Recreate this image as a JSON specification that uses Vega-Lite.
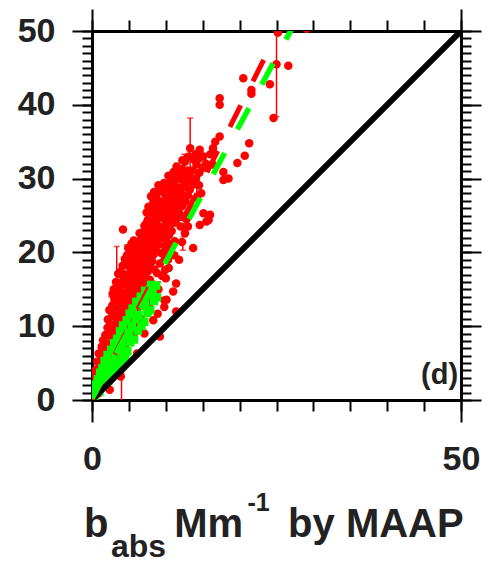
{
  "$schema": "https://vega.github.io/schema/vega-lite/v6.json",
  "width": 369,
  "height": 369,
  "autosize": "none",
  "padding": {"left": 92, "top": 31, "right": 28, "bottom": 162},
  "background": "white",
  "config": {
    "view": {"stroke": null},
    "font": "Liberation Sans",
    "axis": {
      "grid": false,
      "domainColor": "black",
      "domainWidth": 3,
      "tickColor": "black",
      "tickWidth": 2,
      "labelFont": "Liberation Sans",
      "labelFontWeight": "bold",
      "labelColor": "#222222",
      "labelFontSize": 34,
      "labelFlush": false,
      "labelOverlap": false,
      "titleFont": "Liberation Sans",
      "titleFontWeight": "bold",
      "titleColor": "#222222",
      "titleAlign": "left",
      "titleBaseline": "alphabetic",
      "titleAngle": 0,
      "zindex": 1
    }
  },
  "resolve": {"axis": {"x": "independent", "y": "independent"}},
  "datasets": {
    "pts": [
      {"x":0.3,"y":0.6},{"x":0.35,"y":1.9},{"x":0.25,"y":3.3},
      {"x":0.6,"y":1.1},{"x":0.65,"y":2.7},{"x":0.55,"y":4.1},{"x":0.7,"y":5.2},
      {"x":0.9,"y":0.9},{"x":0.95,"y":2.1},{"x":0.85,"y":3.4},{"x":1.0,"y":4.5},{"x":0.9,"y":6.3},
      {"x":1.2,"y":1.6},{"x":1.25,"y":2.9},{"x":1.15,"y":4.2},{"x":1.3,"y":5.6},{"x":1.3,"y":7.2},
      {"x":1.5,"y":2.3},{"x":1.55,"y":3.5},{"x":1.45,"y":5.0},{"x":1.6,"y":6.2},{"x":1.5,"y":8.1},
      {"x":1.8,"y":2.8},{"x":1.85,"y":4.3},{"x":1.75,"y":5.5},{"x":1.9,"y":7.1},{"x":1.8,"y":8.8},
      {"x":2.1,"y":3.5},{"x":2.15,"y":4.7},{"x":2.05,"y":6.5},{"x":2.2,"y":7.6},{"x":2.1,"y":9.8},{"x":2.15,"y":10.9},
      {"x":2.4,"y":1.4},{"x":2.45,"y":4.2},{"x":2.35,"y":5.8},{"x":2.5,"y":7.0},{"x":2.4,"y":8.7},{"x":2.45,"y":10.2},{"x":2.35,"y":12.2},
      {"x":2.7,"y":5.1},{"x":2.75,"y":6.1},{"x":2.65,"y":8.0},{"x":2.8,"y":9.3},{"x":2.7,"y":11.3},{"x":2.75,"y":12.8},{"x":2.8,"y":14.4},
      {"x":3.0,"y":3.6},{"x":3.05,"y":6.9},{"x":2.95,"y":8.1},{"x":3.1,"y":10.2},{"x":3.0,"y":11.6},{"x":3.05,"y":13.8},{"x":2.95,"y":15.0},
      {"x":3.3,"y":5.8},{"x":3.35,"y":7.7},{"x":3.25,"y":9.0},{"x":3.4,"y":10.9},{"x":3.3,"y":12.3},{"x":3.35,"y":14.4},{"x":3.25,"y":16.0},
      {"x":3.6,"y":5.0},{"x":3.65,"y":8.5},{"x":3.55,"y":9.8},{"x":3.7,"y":11.6},{"x":3.6,"y":13.4},{"x":3.65,"y":14.9},{"x":3.55,"y":17.1},
      {"x":3.9,"y":3.2},{"x":3.95,"y":7.4},{"x":3.85,"y":9.1},{"x":4.0,"y":10.6},{"x":3.9,"y":12.5},{"x":3.95,"y":13.9},{"x":3.85,"y":15.9},{"x":3.9,"y":17.4},
      {"x":4.2,"y":8.0},{"x":4.25,"y":9.9},{"x":4.15,"y":11.4},{"x":4.3,"y":13.2},{"x":4.2,"y":14.5},{"x":4.25,"y":16.7},{"x":4.15,"y":18.2},{"x":4.2,"y":23.1},
      {"x":4.5,"y":7.0},{"x":4.55,"y":10.3},{"x":4.45,"y":12.4},{"x":4.6,"y":13.8},{"x":4.5,"y":15.6},{"x":4.55,"y":17.0},{"x":4.45,"y":19.1},
      {"x":4.8,"y":9.4},{"x":4.85,"y":11.5},{"x":4.75,"y":12.8},{"x":4.9,"y":14.7},{"x":4.8,"y":16.1},{"x":4.85,"y":18.2},{"x":4.75,"y":19.6},{"x":4.9,"y":20.6},
      {"x":5.1,"y":8.0},{"x":5.15,"y":11.8},{"x":5.05,"y":13.7},{"x":5.2,"y":15.2},{"x":5.1,"y":17.1},{"x":5.15,"y":18.6},{"x":5.05,"y":20.6},
      {"x":5.4,"y":10.8},{"x":5.45,"y":12.7},{"x":5.35,"y":14.3},{"x":5.5,"y":16.2},{"x":5.4,"y":17.7},{"x":5.45,"y":19.6},{"x":5.35,"y":21.2},
      {"x":5.7,"y":9.0},{"x":5.75,"y":13.2},{"x":5.65,"y":15.1},{"x":5.8,"y":16.7},{"x":5.7,"y":18.6},{"x":5.75,"y":20.0},{"x":5.65,"y":21.6},
      {"x":6.1,"y":6.3},{"x":6.05,"y":12.1},{"x":5.95,"y":14.1},{"x":6.1,"y":15.6},{"x":6.0,"y":17.5},{"x":6.05,"y":19.1},{"x":5.95,"y":21.0},
      {"x":6.3,"y":10.0},{"x":6.35,"y":14.5},{"x":6.25,"y":16.6},{"x":6.4,"y":18.0},{"x":6.3,"y":20.0},{"x":6.35,"y":21.5},{"x":6.45,"y":22.6},
      {"x":6.6,"y":11.0},{"x":6.65,"y":13.5},{"x":6.55,"y":15.5},{"x":6.7,"y":17.1},{"x":6.6,"y":19.0},{"x":6.65,"y":20.5},{"x":6.75,"y":22.4},
      {"x":6.9,"y":14.4},{"x":6.95,"y":15.9},{"x":6.85,"y":17.9},{"x":7.0,"y":19.5},{"x":6.9,"y":21.5},{"x":7.05,"y":22.9},{"x":7.1,"y":23.6},
      {"x":7.1,"y":9.0},{"x":7.25,"y":14.9},{"x":7.15,"y":16.9},{"x":7.3,"y":18.4},{"x":7.2,"y":20.4},{"x":7.25,"y":21.9},{"x":7.35,"y":23.9},{"x":7.4,"y":25.4},
      {"x":7.5,"y":13.5},{"x":7.55,"y":17.4},{"x":7.45,"y":19.3},{"x":7.6,"y":20.9},{"x":7.5,"y":22.9},{"x":7.55,"y":24.4},{"x":7.65,"y":26.2},
      {"x":7.8,"y":12.5},{"x":7.85,"y":16.3},{"x":7.75,"y":18.3},{"x":7.9,"y":19.9},{"x":7.8,"y":21.8},{"x":7.85,"y":23.4},{"x":7.95,"y":25.4},{"x":8.0,"y":27.6},
      {"x":8.1,"y":15.8},{"x":8.15,"y":18.8},{"x":8.05,"y":20.8},{"x":8.2,"y":22.3},{"x":8.1,"y":24.3},{"x":8.15,"y":25.9},{"x":8.25,"y":27.7},
      {"x":8.3,"y":10.8},{"x":8.45,"y":17.7},{"x":8.35,"y":19.7},{"x":8.5,"y":21.3},{"x":8.4,"y":23.3},{"x":8.45,"y":24.8},{"x":8.35,"y":26.8},{"x":8.4,"y":28.2},
      {"x":8.8,"y":17.2},{"x":8.75,"y":20.2},{"x":8.65,"y":22.2},{"x":8.8,"y":23.8},{"x":8.7,"y":25.7},{"x":8.75,"y":27.3},{"x":8.9,"y":11.7},
      {"x":9.0,"y":15.0},{"x":9.2,"y":18.5},{"x":8.95,"y":21.1},{"x":9.1,"y":22.7},{"x":9.0,"y":24.7},{"x":9.05,"y":26.2},{"x":8.95,"y":28.2},{"x":9.0,"y":29.1},
      {"x":9.2,"y":8.6},{"x":9.45,"y":19.9},{"x":9.35,"y":21.9},{"x":9.5,"y":23.4},{"x":9.4,"y":25.4},{"x":9.45,"y":26.9},{"x":9.35,"y":28.7},{"x":9.5,"y":16.8},
      {"x":9.8,"y":13.5},{"x":9.8,"y":12.6},{"x":9.9,"y":17.6},{"x":9.85,"y":20.8},{"x":9.75,"y":22.5},{"x":9.9,"y":24.4},{"x":9.8,"y":25.9},{"x":9.85,"y":27.9},{"x":9.75,"y":29.4},
      {"x":10.1,"y":13.6},{"x":10.0,"y":16.5},{"x":10.15,"y":21.4},{"x":10.05,"y":23.4},{"x":10.2,"y":25.0},{"x":10.1,"y":26.9},{"x":10.15,"y":28.4},
      {"x":10.3,"y":19.0},{"x":10.4,"y":17.9},{"x":10.45,"y":22.4},{"x":10.35,"y":24.0},{"x":10.5,"y":26.0},{"x":10.4,"y":27.5},{"x":10.45,"y":29.4},{"x":10.35,"y":30.4},
      {"x":10.6,"y":20.2},{"x":10.8,"y":22.9},{"x":10.85,"y":24.9},{"x":10.75,"y":26.5},{"x":10.9,"y":28.4},{"x":10.8,"y":29.9},
      {"x":11.0,"y":14.7},{"x":11.15,"y":19.6},{"x":11.05,"y":24.0},{"x":11.2,"y":25.5},{"x":11.1,"y":27.4},{"x":11.15,"y":29.0},{"x":11.05,"y":30.9},{"x":11.2,"y":21.5},
      {"x":11.4,"y":12.0},{"x":11.4,"y":15.8},{"x":11.45,"y":24.5},{"x":11.6,"y":26.4},{"x":11.5,"y":28.0},{"x":11.55,"y":29.9},{"x":11.45,"y":31.6},
      {"x":11.8,"y":19.0},{"x":11.85,"y":25.3},{"x":11.75,"y":27.2},{"x":11.9,"y":28.8},{"x":11.8,"y":30.7},{"x":12.0,"y":23.5},
      {"x":12.2,"y":21.4},{"x":12.25,"y":26.3},{"x":12.15,"y":27.8},{"x":12.3,"y":29.8},{"x":12.2,"y":31.3},{"x":12.25,"y":32.5},{"x":12.3,"y":24.8},
      {"x":12.6,"y":22.6},{"x":12.65,"y":26.9},{"x":12.55,"y":28.8},{"x":12.7,"y":30.3},{"x":12.6,"y":32.3},{"x":12.8,"y":24.5},
      {"x":13.0,"y":27.7},{"x":13.05,"y":29.6},{"x":12.95,"y":31.1},{"x":13.1,"y":33.0},{"x":13.0,"y":23.5},{"x":13.0,"y":25.3},
      {"x":13.3,"y":34.1},{"x":13.35,"y":30.1},{"x":13.25,"y":28.5},{"x":13.5,"y":26.0},
      {"x":13.7,"y":20.6},{"x":13.75,"y":29.2},{"x":13.65,"y":31.1},{"x":13.8,"y":32.6},
      {"x":14.1,"y":30.0},{"x":14.15,"y":31.9},{"x":14.05,"y":33.3},{"x":14.2,"y":27.5},
      {"x":14.5,"y":29.1},{"x":14.55,"y":30.8},{"x":14.45,"y":32.7},{"x":14.6,"y":33.9},{"x":14.6,"y":23.7},{"x":14.8,"y":28.0},
      {"x":15.0,"y":31.5},{"x":15.05,"y":33.0},
      {"x":15.5,"y":24.2},{"x":15.45,"y":32.0},{"x":15.8,"y":24.4},{"x":15.1,"y":25.3},{"x":16.0,"y":25.1},{"x":16.05,"y":33.3},
      {"x":16.4,"y":34.1},{"x":16.35,"y":31.9},{"x":16.7,"y":35.0},
      {"x":17.3,"y":35.7},{"x":17.3,"y":40.0},{"x":17.3,"y":40.9},
      {"x":17.8,"y":29.8},{"x":17.8,"y":30.9},{"x":18.5,"y":30.0},{"x":19.7,"y":32.1},{"x":20.7,"y":33.1},{"x":21.3,"y":34.8},
      {"x":21.6,"y":42.0},{"x":21.6,"y":41.5},{"x":20.5,"y":43.6},{"x":24.1,"y":42.8},
      {"x":25.0,"y":45.5},{"x":26.6,"y":45.3},{"x":24.6,"y":38.2},{"x":25.2,"y":49.8},{"x":29.1,"y":50.3}
    ],
    "err": [
      {"x":25.0,"lo":38.4,"hi":52.6},{"x":13.3,"lo":30.5,"hi":38.2},{"x":3.35,"lo":14.0,"hi":20.8},{"x":4.0,"lo":-0.5,"hi":3.6},
      {"x":12.4,"lo":22.1,"hi":23.9},{"x":12.3,"lo":20.3,"hi":21.5},{"x":12.5,"lo":29.8,"hi":33.3},{"x":11.5,"lo":30.7,"hi":32.1},
      {"x":7.9,"lo":25.7,"hi":27.6},{"x":8.3,"lo":23.5,"hi":25.5},{"x":5.6,"lo":20.8,"hi":21.7},{"x":4.7,"lo":18.1,"hi":21.0},
      {"x":5.4,"lo":19.0,"hi":21.2},{"x":1.2,"lo":3.0,"hi":4.2},
      {"x":2.6,"lo":12.0,"hi":14.0},{"x":5.5,"lo":17.0,"hi":19.4},{"x":6.9,"lo":18.5,"hi":21.5},{"x":9.6,"lo":24.8,"hi":27.2},
      {"x":10.3,"lo":26.0,"hi":28.2},{"x":7.2,"lo":16.8,"hi":19.8},{"x":4.3,"lo":10.0,"hi":12.2},{"x":8.5,"lo":13.0,"hi":15.2},
      {"x":6.0,"lo":12.8,"hi":15.8},{"x":3.0,"lo":6.0,"hi":8.4},{"x":11.3,"lo":26.8,"hi":29.2},{"x":9.0,"lo":14.0,"hi":16.0},
      {"x":14.2,"lo":28.0,"hi":30.0},{"x":15.4,"lo":31.0,"hi":33.4},{"x":2.0,"lo":3.0,"hi":5.0}
    ],
    "green": [
      {"x":0.15,"y":0.4},{"x":0.35,"y":0.5},
      {"x":0.3,"y":1.2},{"x":0.7,"y":1.3},{"x":1.0,"y":1.1},
      {"x":0.5,"y":2.1},{"x":1.1,"y":1.9},{"x":1.6,"y":2.0},
      {"x":0.8,"y":2.8},{"x":1.5,"y":3.0},{"x":2.2,"y":2.6},
      {"x":1.1,"y":3.7},{"x":1.9,"y":3.5},{"x":2.8,"y":3.6},
      {"x":1.4,"y":4.3},{"x":2.4,"y":4.6},{"x":3.4,"y":4.2},
      {"x":1.7,"y":5.3},{"x":2.8,"y":5.1},{"x":3.9,"y":5.2},{"x":4.5,"y":5.6},
      {"x":2.1,"y":6.1},{"x":3.2,"y":5.9},{"x":4.3,"y":6.2},
      {"x":2.6,"y":6.8},{"x":3.7,"y":7.1},{"x":4.8,"y":6.6},
      {"x":3.0,"y":7.7},{"x":4.1,"y":7.5},{"x":5.2,"y":7.8},
      {"x":3.4,"y":8.3},{"x":4.6,"y":8.6},{"x":5.7,"y":8.2},
      {"x":3.8,"y":9.3},{"x":5.0,"y":9.1},{"x":6.2,"y":9.4},
      {"x":4.2,"y":10.1},{"x":5.4,"y":9.9},{"x":6.7,"y":10.0},
      {"x":4.7,"y":10.8},{"x":5.9,"y":11.0},{"x":7.1,"y":10.6},
      {"x":5.1,"y":11.7},{"x":6.3,"y":11.5},{"x":7.5,"y":11.8},
      {"x":5.5,"y":12.4},{"x":6.8,"y":12.7},{"x":7.9,"y":12.2},
      {"x":6.0,"y":13.3},{"x":7.2,"y":13.1},{"x":8.4,"y":13.4},
      {"x":6.6,"y":14.0},{"x":7.7,"y":14.3},{"x":8.8,"y":13.9},
      {"x":7.2,"y":14.8},{"x":8.2,"y":15.0},
      {"x":8.0,"y":15.6},{"x":8.7,"y":15.5}
    ],
    "one": [{"x":0,"y":0},{"x":50,"y":50}],
    "fitr": [{"x":0,"y":0},{"x":26,"y":51.5}],
    "fitg": [{"x":0,"y":0.2},{"x":27.5,"y":51.1}],
    "lab": [{"x":49.6,"y":2.2,"t":"(d)"}]
  },
  "layer": [
    {
      "data": {"name": "err"},
      "mark": {"type": "rule", "color": "#ff0000", "strokeWidth": 1.5, "clip": true},
      "encoding": {
        "x": {"field": "x", "type": "quantitative", "scale": {"domain": [0, 50], "nice": false, "zero": false},
          "axis": {"orient": "bottom", "values": [0,5,10,15,20,25,30,35,40,45,50], "tickSize": 11, "labels": false,
            "title": "b", "titleFontSize": 40, "titleX": -8.4, "titleY": 136}},
        "y": {"field": "lo", "type": "quantitative", "scale": {"domain": [0, 50], "nice": false, "zero": false},
          "axis": {"orient": "left", "values": [0,1,2,3,4,5,6,7,8,9,10,11,12,13,14,15,16,17,18,19,20,21,22,23,24,25,26,27,28,29,30,31,32,33,34,35,36,37,38,39,40,41,42,43,44,45,46,47,48,49,50], "tickSize": 10, "labels": false, "title": null}},
        "y2": {"field": "hi"}
      }
    },
    {
      "data": {"name": "err"},
      "transform": [{"fold": ["lo", "hi"], "as": ["end", "v"]}],
      "mark": {"type": "tick", "orient": "horizontal", "color": "#ff0000", "size": 6, "thickness": 1.5, "clip": true},
      "encoding": {
        "x": {"field": "x", "type": "quantitative", "scale": {"domain": [0, 50], "nice": false, "zero": false},
          "axis": {"orient": "bottom", "values": [0, 50], "tickSize": 22, "labelPadding": 20, "labelBaseline": "top",
            "title": "abs", "titleFontSize": 32, "titleX": 18.5, "titleY": 156}},
        "y": {"field": "v", "type": "quantitative", "scale": {"domain": [0, 50], "nice": false, "zero": false},
          "axis": {"orient": "left", "values": [0,10,20,30,40,50], "tickSize": 20, "labelPadding": 17, "title": null}}
      }
    },
    {
      "data": {"name": "pts"},
      "mark": {"type": "circle", "color": "#ff0000", "size": 72, "opacity": 1, "clip": true},
      "encoding": {
        "x": {"field": "x", "type": "quantitative", "scale": {"domain": [0, 50], "nice": false, "zero": false},
          "axis": {"orient": "top", "values": [0,5,10,15,20,25,30,35,40,45,50], "tickSize": 11, "labels": false, "title": null}},
        "y": {"field": "y", "type": "quantitative", "scale": {"domain": [0, 50], "nice": false, "zero": false},
          "axis": {"orient": "right", "values": [0,1,2,3,4,5,6,7,8,9,10,11,12,13,14,15,16,17,18,19,20,21,22,23,24,25,26,27,28,29,30,31,32,33,34,35,36,37,38,39,40,41,42,43,44,45,46,47,48,49,50], "tickSize": 10, "labels": false, "title": null}}
      }
    },
    {
      "data": {"name": "green"},
      "mark": {"type": "square", "color": "#00ff00", "size": 70, "opacity": 1, "clip": true},
      "encoding": {
        "x": {"field": "x", "type": "quantitative", "scale": {"domain": [0, 50], "nice": false, "zero": false},
          "axis": {"orient": "top", "values": [0, 50], "tickSize": 22, "labels": false, "title": null}},
        "y": {"field": "y", "type": "quantitative", "scale": {"domain": [0, 50], "nice": false, "zero": false},
          "axis": {"orient": "right", "values": [0,10,20,30,40,50], "tickSize": 20, "labels": false, "title": null}}
      }
    },
    {
      "data": {"name": "one"},
      "mark": {"type": "line", "color": "black", "strokeWidth": 6, "clip": true},
      "encoding": {
        "x": {"field": "x", "type": "quantitative", "scale": {"domain": [0, 50], "nice": false, "zero": false},
          "axis": {"orient": "bottom", "domain": false, "ticks": false, "labels": false,
            "title": "Mm", "titleFontSize": 40, "titleX": 81.8, "titleY": 136}},
        "y": {"field": "y", "type": "quantitative", "scale": {"domain": [0, 50], "nice": false, "zero": false}, "axis": null}
      }
    },
    {
      "data": {"name": "fitr"},
      "mark": {"type": "line", "color": "#ff0000", "strokeWidth": 5, "strokeDash": [24, 27], "clip": true},
      "encoding": {
        "x": {"field": "x", "type": "quantitative", "scale": {"domain": [0, 50], "nice": false, "zero": false},
          "axis": {"orient": "bottom", "domain": false, "ticks": false, "labels": false,
            "title": "-1", "titleFontSize": 25, "titleX": 155, "titleY": 110}},
        "y": {"field": "y", "type": "quantitative", "scale": {"domain": [0, 50], "nice": false, "zero": false}, "axis": null}
      }
    },
    {
      "data": {"name": "fitg"},
      "mark": {"type": "line", "color": "#00ff00", "strokeWidth": 5.5, "strokeDash": [24, 27], "clip": true},
      "encoding": {
        "x": {"field": "x", "type": "quantitative", "scale": {"domain": [0, 50], "nice": false, "zero": false},
          "axis": {"orient": "bottom", "domain": false, "ticks": false, "labels": false,
            "title": "by MAAP", "titleFontSize": 40, "titleX": 195.6, "titleY": 136}},
        "y": {"field": "y", "type": "quantitative", "scale": {"domain": [0, 50], "nice": false, "zero": false}, "axis": null}
      }
    },
    {
      "data": {"name": "lab"},
      "mark": {"type": "text", "align": "right", "baseline": "alphabetic", "fontSize": 29, "fontWeight": "bold", "font": "Liberation Sans", "color": "#222222"},
      "encoding": {
        "x": {"field": "x", "type": "quantitative", "scale": {"domain": [0, 50], "nice": false, "zero": false}, "axis": null},
        "y": {"field": "y", "type": "quantitative", "scale": {"domain": [0, 50], "nice": false, "zero": false}, "axis": null},
        "text": {"field": "t"}
      }
    }
  ]
}
